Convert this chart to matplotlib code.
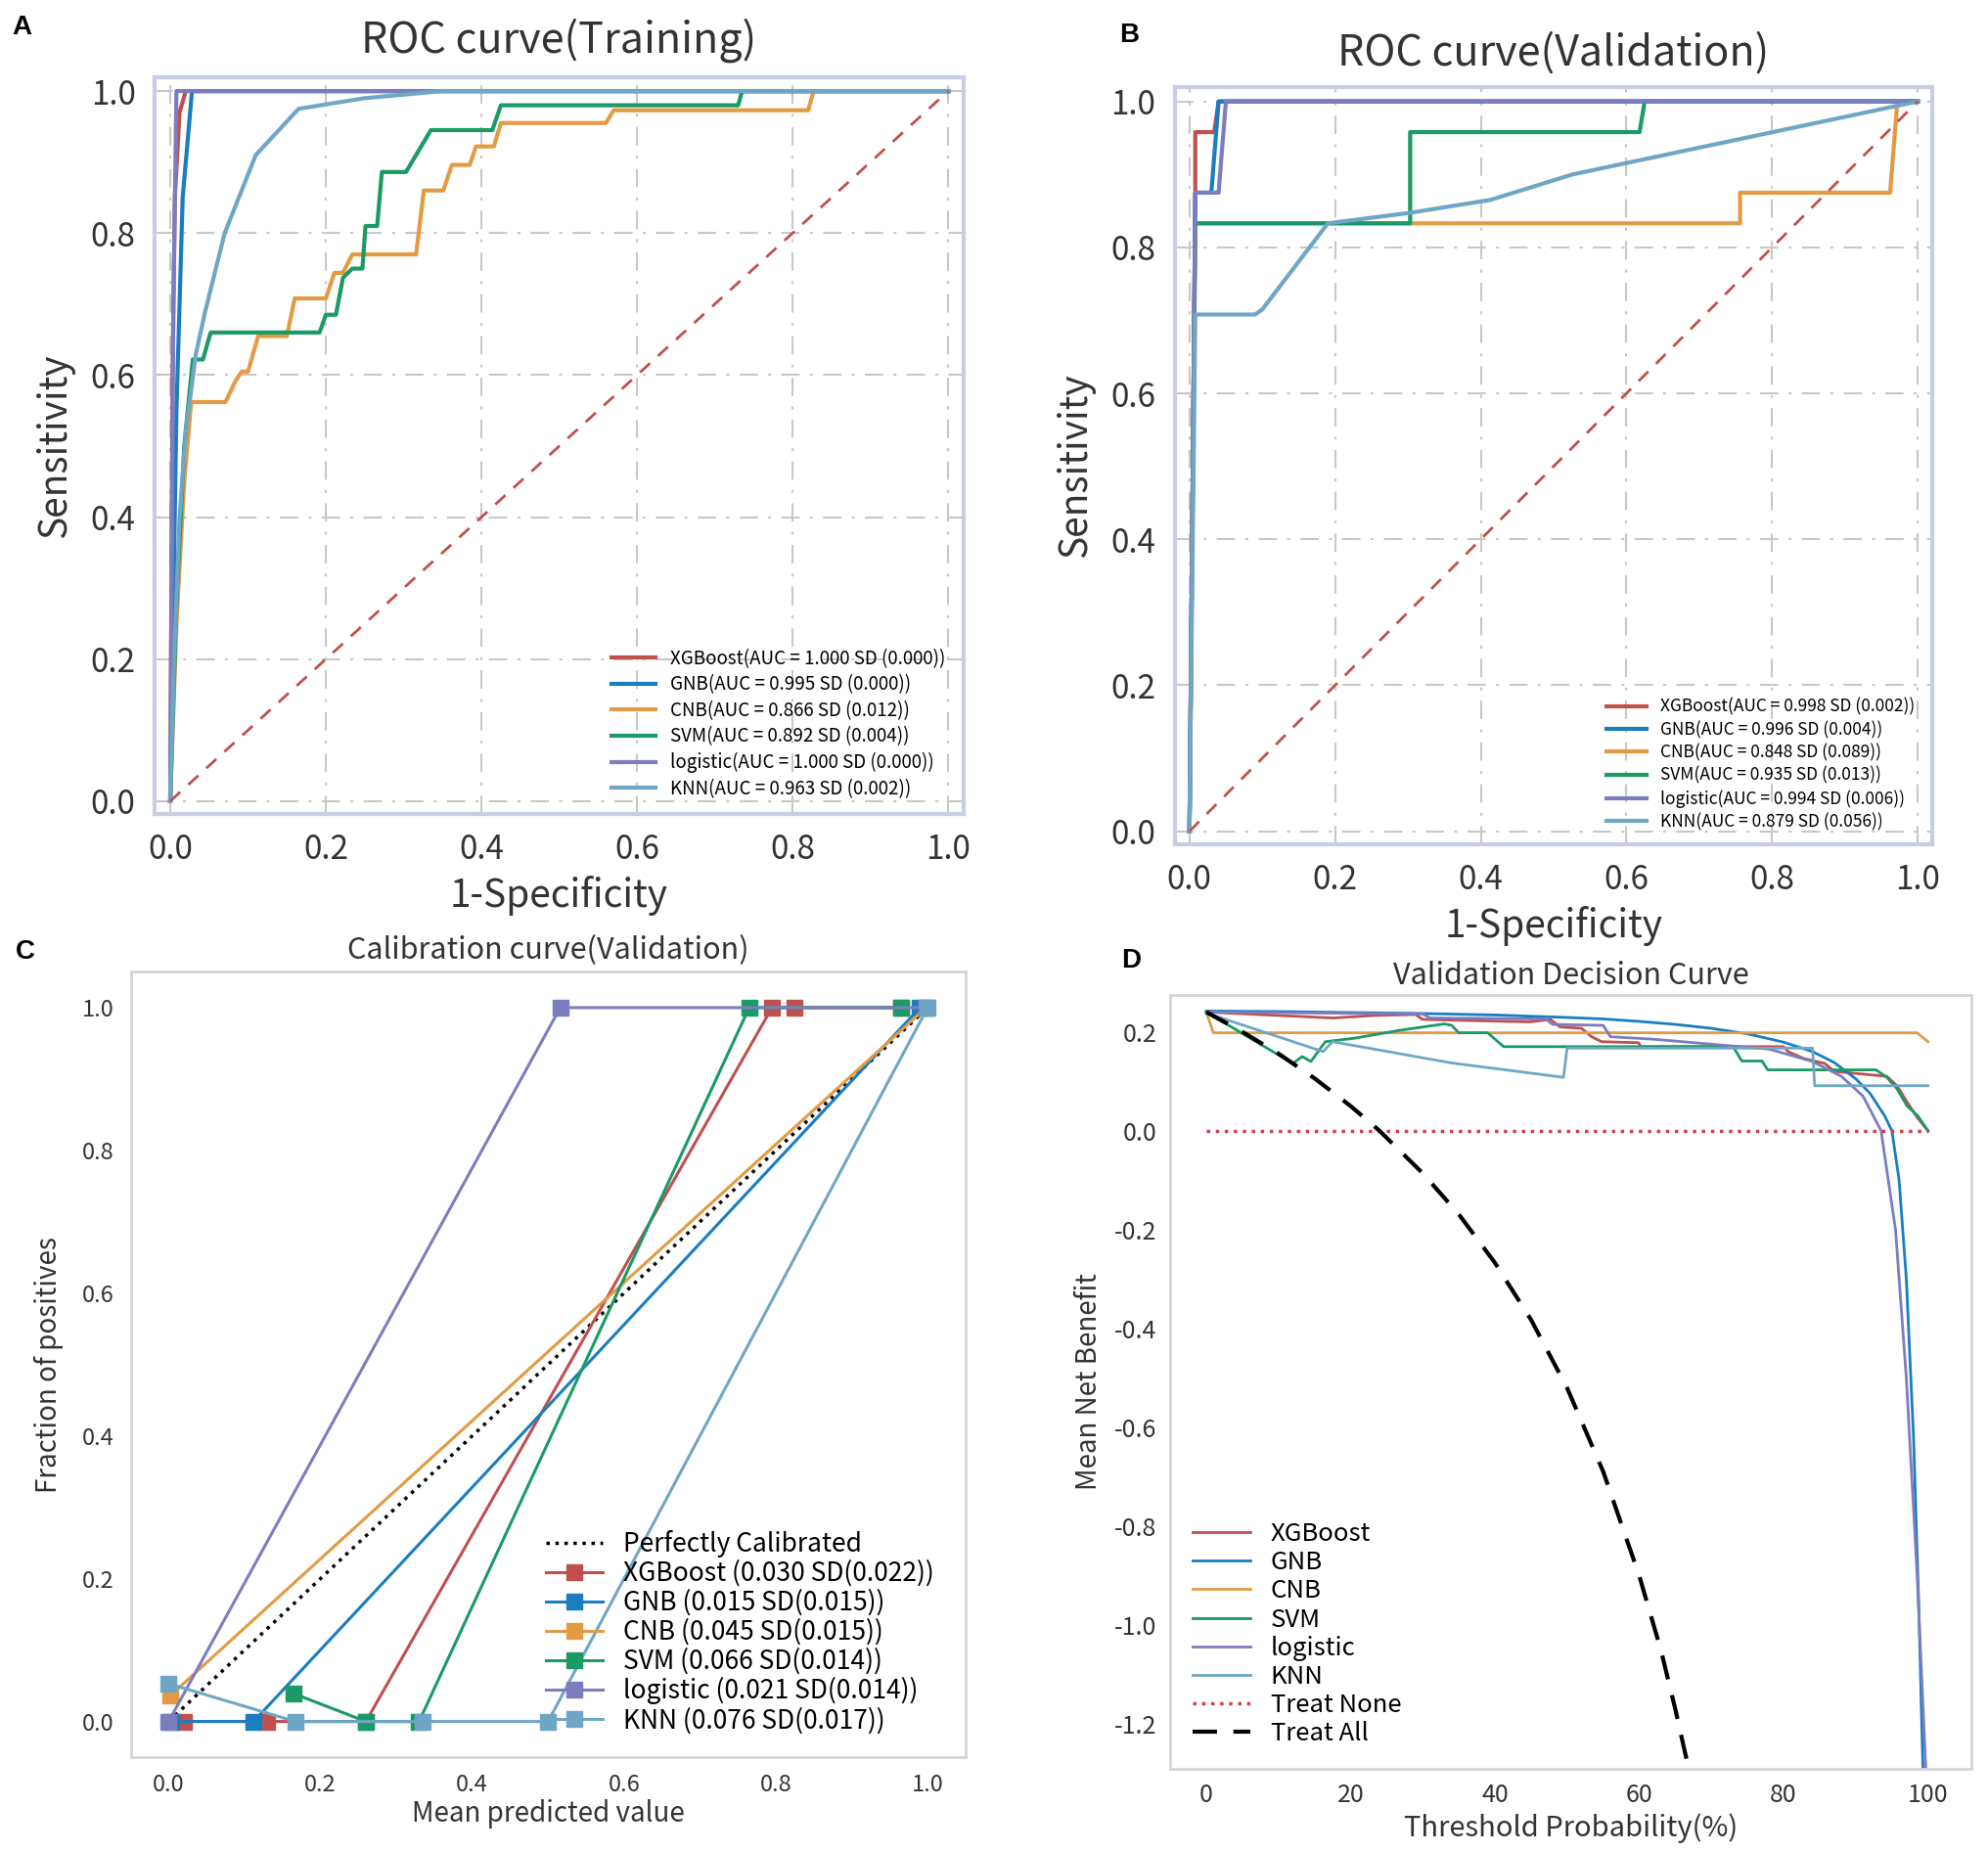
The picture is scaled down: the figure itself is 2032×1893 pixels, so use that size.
import numpy as np
import matplotlib
matplotlib.use('Agg')
import matplotlib.pyplot as plt

plt.rcParams['font.family'] = ['Noto Sans CJK SC', 'DejaVu Sans']
plt.rcParams['axes.unicode_minus'] = False

models = ['XGBoost', 'GNB', 'CNB', 'SVM', 'logistic', 'KNN']
colors = ['#C0504D', '#1A7DC0', '#E39B43', '#1A9A64', '#7C7DBF', '#6FA6C6']

# ROC training
train_fpr = [
    [0, 0.003, 0.006, 0.012, 0.02, 1.0],
    [0, 0.008, 0.016, 0.028, 1.0],
    [0, 0.008, 0.018, 0.027, 0.071, 0.084, 0.092, 0.1, 0.113, 0.15, 0.16, 0.2, 0.211, 0.222,
     0.234, 0.316, 0.326, 0.351, 0.362, 0.385, 0.393, 0.416, 0.425, 0.56, 0.57, 0.82, 0.827, 1.0],
    [0, 0.008, 0.018, 0.029, 0.042, 0.052, 0.192, 0.2, 0.213, 0.222, 0.234, 0.247, 0.251, 0.266,
     0.272, 0.303, 0.335, 0.414, 0.425, 0.73, 0.735, 1.0],
    [0, 0.004, 0.008, 1.0],
    [0, 0.005, 0.012, 0.02, 0.033, 0.045, 0.07, 0.11, 0.165, 0.25, 0.35, 1.0],
]
train_tpr = [
    [0, 0.6, 0.85, 0.97, 1.0, 1.0],
    [0, 0.55, 0.85, 1.0, 1.0],
    [0, 0.25, 0.45, 0.562, 0.562, 0.592, 0.605, 0.605, 0.655, 0.655, 0.708, 0.708, 0.744, 0.744,
     0.77, 0.77, 0.86, 0.86, 0.896, 0.896, 0.922, 0.922, 0.955, 0.955, 0.973, 0.973, 1.0, 1.0],
    [0, 0.28, 0.5, 0.622, 0.622, 0.66, 0.66, 0.685, 0.685, 0.737, 0.75, 0.75, 0.81, 0.81,
     0.886, 0.886, 0.945, 0.945, 0.98, 0.98, 1.0, 1.0],
    [0, 0.7, 1.0, 1.0],
    [0, 0.2, 0.4, 0.52, 0.63, 0.69, 0.8, 0.91, 0.975, 0.99, 1.0, 1.0],
]
auc_train = [1.000, 0.995, 0.866, 0.892, 1.000, 0.963]
sd_train = [0.000, 0.000, 0.012, 0.004, 0.000, 0.002]

# ROC validation
val_fpr = [
    [0, 0.008, 0.008, 0.034, 0.04, 1.0],
    [0, 0.008, 0.03, 0.04, 1.0],
    [0, 0.008, 0.756, 0.756, 0.962, 0.972, 1.0],
    [0, 0.008, 0.303, 0.303, 0.618, 0.625, 1.0],
    [0, 0.008, 0.04, 0.05, 1.0],
    [0, 0.008, 0.09, 0.1, 0.19, 0.3, 0.413, 0.526, 1.0],
]
val_tpr = [
    [0, 0.875, 0.958, 0.958, 1.0, 1.0],
    [0, 0.875, 0.875, 1.0, 1.0],
    [0, 0.833, 0.833, 0.875, 0.875, 1.0, 1.0],
    [0, 0.833, 0.833, 0.958, 0.958, 1.0, 1.0],
    [0, 0.875, 0.875, 1.0, 1.0],
    [0, 0.708, 0.708, 0.715, 0.833, 0.847, 0.865, 0.9, 1.0],
]
auc_val = [0.998, 0.996, 0.848, 0.935, 0.994, 0.879]
sd_val = [0.002, 0.004, 0.089, 0.013, 0.006, 0.056]

# calibration (validation)
cal_pred = [
    [0.02, 0.13, 0.26, 0.795, 0.825, 0.965],
    [0.003, 0.112, 0.99],
    [0.002, 0.998],
    [0.165, 0.26, 0.33, 0.765, 0.965],
    [0.0, 0.516, 0.999],
    [0.0, 0.167, 0.335, 0.5, 1.0],
]
cal_frac = [
    [0, 0, 0, 1, 1, 1],
    [0, 0, 1],
    [0.036, 1.0],
    [0.039, 0, 0, 1, 1],
    [0, 1, 1],
    [0.053, 0, 0, 0, 1],
]
brier = [0.030, 0.015, 0.045, 0.066, 0.021, 0.076]
brier_sd = [0.022, 0.015, 0.015, 0.014, 0.014, 0.017]

# decision curve (validation), threshold in %
dca_x = [
    [0, 10, 17.6, 23.3, 29, 30, 44.8, 47.7, 49, 52, 53.4, 54.8, 59.9, 60.2, 80, 80.6, 82.8, 85.7,
     87, 94.3, 95.7, 97.1, 98.6, 100],
    [0, 10, 20, 30, 40, 50, 55, 60, 65, 70, 75, 80, 84, 87, 90, 92, 94, 95, 96, 97, 98, 98.7, 99.3],
    [0, 1, 98.5, 100],
    [0, 12, 13.3, 14.5, 16.5, 20.5, 26.8, 33, 34, 35, 39, 41.2, 73, 74.2, 77, 77.8, 92.8, 94.3,
     95.7, 97.1, 98.6, 100],
    [0, 30, 31, 47, 48, 55, 56, 62, 70, 78, 84, 88, 91, 93.5, 95.5, 97, 98.5, 99.7],
    [0, 16.2, 17.5, 34, 49.5, 50, 84, 84.3, 100],
]
dca_y = [
    [0.24, 0.233, 0.228, 0.233, 0.235, 0.225, 0.22, 0.225, 0.21, 0.207, 0.19, 0.18, 0.178, 0.17,
     0.17, 0.16, 0.146, 0.136, 0.12, 0.11, 0.091, 0.058, 0.025, 0.0],
    [0.242, 0.241, 0.239, 0.237, 0.234, 0.229, 0.226, 0.221, 0.215, 0.207, 0.196, 0.179, 0.16,
     0.138, 0.105, 0.075, 0.03, 0.0, -0.1, -0.3, -0.62, -0.95, -1.29],
    [0.24, 0.198, 0.198, 0.18],
    [0.24, 0.136, 0.15, 0.14, 0.18, 0.187, 0.203, 0.216, 0.213, 0.198, 0.198, 0.17, 0.17, 0.141,
     0.141, 0.123, 0.123, 0.108, 0.085, 0.05, 0.03, 0.0],
    [0.24, 0.236, 0.228, 0.226, 0.215, 0.213, 0.19, 0.185, 0.175, 0.165, 0.14, 0.11, 0.07, 0.0,
     -0.2, -0.5, -0.9, -1.29],
    [0.238, 0.16, 0.18, 0.137, 0.108, 0.167, 0.167, 0.091, 0.091],
]
treat_all_x = [0, 5, 10, 15, 20, 24, 30, 35, 40, 45, 50, 55, 60, 63, 65, 67]
treat_all_y = [0.24, 0.2, 0.156, 0.106, 0.05, 0.0, -0.086, -0.169, -0.267, -0.382, -0.52,
               -0.689, -0.9, -1.05, -1.17, -1.30]
treat_none_x = [0, 100]
treat_none_y = [0, 0]

fig = plt.figure(figsize=(20.32, 18.93), dpi=100)
txt = '#333333'


def roc_panel(rect, fprs, tprs, aucs, sds, title, title_pad, leg_size):
    ax = fig.add_axes(rect)
    ax.set_facecolor('white')
    for f, t, m, c, a, s in zip(fprs, tprs, models, colors, aucs, sds):
        ax.plot(f, t, color=c, lw=3, label=f'{m}(AUC = {a:.3f} SD ({s:.3f}))')
    ax.plot([0, 1], [0, 1], color='#C0504D', lw=2, ls=(0, (5, 4)))
    ax.set_xlim(-0.02, 1.02)
    ax.set_ylim(-0.018, 1.02)
    ax.set_xticks(np.arange(0, 1.01, 0.2))
    ax.set_yticks(np.arange(0, 1.01, 0.2))
    ax.grid(True, color='#C8C8C8', lw=1.5, ls=(0, (9, 5, 1.5, 5)))
    ax.set_axisbelow(True)
    for sp in ax.spines.values():
        sp.set_color('#C9CDE3')
        sp.set_linewidth(3)
    ax.tick_params(length=0, labelsize=24, labelcolor=txt, pad=14)
    ax.set_xlabel('1-Specificity', fontsize=28, color=txt, labelpad=6)
    ax.set_ylabel('Sensitivity', fontsize=28, color=txt, labelpad=12)
    ax.set_title(title, fontsize=31, color=txt, pad=title_pad)
    ax.legend(loc='lower right', bbox_to_anchor=(0.995, 0.0), frameon=False,
              fontsize=leg_size, handlelength=2.4, labelspacing=0.3, borderpad=0.3)
    return ax


roc_panel([0.0778, 0.5605, 0.407, 0.398], train_fpr, train_tpr, auc_train, sd_train,
          'ROC curve(Training)', 18, 13.5)
roc_panel([0.591, 0.5441, 0.381, 0.409], val_fpr, val_tpr, auc_val, sd_val,
          'ROC curve(Validation)', 16, 12.5)

# calibration
axc = fig.add_axes([0.0657, 0.0512, 0.420, 0.424])
axc.plot([0, 1], [0, 1], color='black', ls=':', lw=2.5, label='Perfectly Calibrated')
for xp, yf, m, c, b, s in zip(cal_pred, cal_frac, models, colors, brier, brier_sd):
    axc.plot(xp, yf, color=c, lw=2.2, marker='s', ms=11, label=f'{m} ({b:.3f} SD({s:.3f}))')
axc.set_xlim(-0.05, 1.05)
axc.set_ylim(-0.05, 1.05)
axc.set_xticks(np.arange(0, 1.01, 0.2))
axc.set_yticks(np.arange(0, 1.01, 0.2))
for sp in axc.spines.values():
    sp.set_color('#D5D5D5')
    sp.set_linewidth(2)
axc.tick_params(length=0, labelsize=17, labelcolor=txt, pad=12)
axc.set_xlabel('Mean predicted value', fontsize=20, color=txt, labelpad=2)
axc.set_ylabel('Fraction of positives', fontsize=20, color=txt, labelpad=14)
axc.set_title('Calibration curve(Validation)', fontsize=22, color=txt, pad=10)
axc.legend(loc='lower right', bbox_to_anchor=(0.99, 0.0), frameon=False, fontsize=19,
           handlelength=2.2, labelspacing=0.1)

# decision curve
axd = fig.add_axes([0.5886, 0.0449, 0.403, 0.418])
for xs, ys, m, c in zip(dca_x, dca_y, models, colors):
    axd.plot(xs, ys, color=c, lw=2, label=m)
axd.plot(treat_none_x, treat_none_y, color='#D0404A', ls=':', lw=2.5, label='Treat None')
axd.plot(treat_all_x, treat_all_y, color='black', ls=(0, (6, 4)), lw=3, label='Treat All')
axd.set_xlim(-5, 106)
axd.set_ylim(-1.29, 0.275)
axd.set_xticks(np.arange(0, 101, 20))
axd.set_yticks(np.round(np.arange(-1.2, 0.21, 0.2), 1))
for sp in axd.spines.values():
    sp.set_color('#D5D5D5')
    sp.set_linewidth(2)
axd.tick_params(length=0, labelsize=18, labelcolor=txt, pad=10)
axd.set_xlabel('Threshold Probability(%)', fontsize=21, color=txt, labelpad=4)
axd.set_ylabel('Mean Net Benefit', fontsize=20, color=txt, labelpad=8)
axd.set_title('Validation Decision Curve', fontsize=22, color=txt, pad=8)
axd.legend(loc='lower left', bbox_to_anchor=(0.0, 0.0), frameon=False, fontsize=18.5,
           handlelength=2.3, labelspacing=0.12)

for lab, x, y in [('A', 0.006, 0.985), ('B', 0.563, 0.981), ('C', 0.008, 0.486), ('D', 0.564, 0.481)]:
    fig.text(x, y, lab, fontsize=20, fontweight='bold', family='Liberation Sans', va='center')

fig.savefig('out.png', dpi=100, facecolor='white')
